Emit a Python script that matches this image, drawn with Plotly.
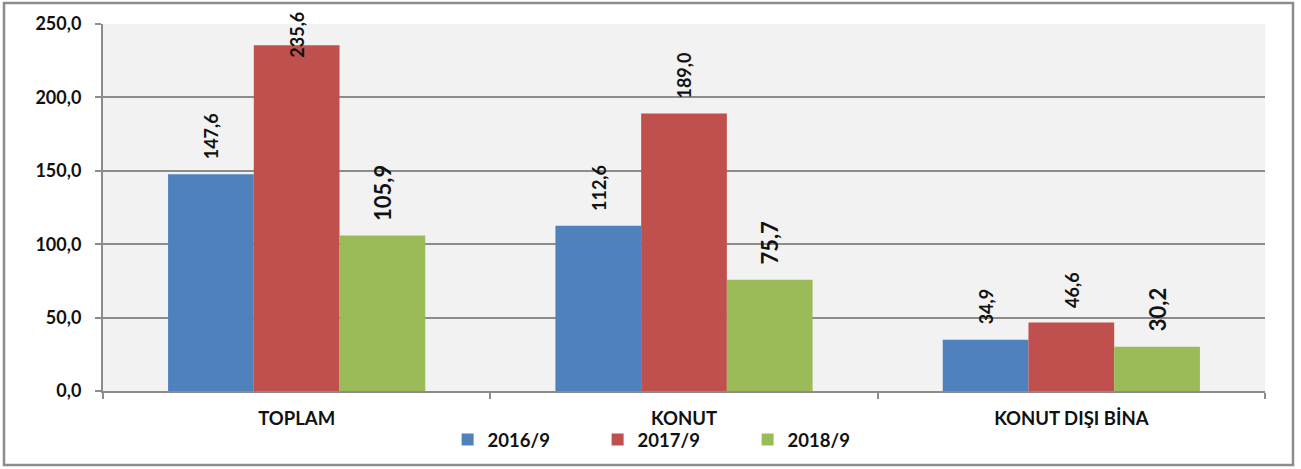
import plotly.graph_objects as go

categories = ["TOPLAM", "KONUT", "KONUT DIŞI BİNA"]
series_names = ["2016/9", "2017/9", "2018/9"]
v2016 = [147.6, 112.6, 34.9]
v2017 = [235.6, 189.0, 46.6]
v2018 = [105.9, 75.7, 30.2]
y_ticks = [0, 50, 100, 150, 200, 250]

series_values = [v2016, v2017, v2018]
colors = ["#4F81BD", "#C0504D", "#9BBB59"]
label_sizes = [18, 18, 22]

W, H = 1301, 469
ML, MR, MT, MB = 103, 36, 24, 78
plot_h = H - MT - MB
ymax = 250
bargap = 0.336
FONT = "Lato"

fig = go.Figure()
for name, vals, col in zip(series_names, series_values, colors):
    fig.add_trace(go.Bar(
        x=categories, y=vals, name=name,
        marker=dict(color=col, line=dict(width=0)),
    ))

def fmt(v):
    return f"{v:.1f}".replace(".", ",")

annotations = []
nser = len(series_values)
barw = (1 - bargap) / nser
gap_px = 14
for i, vals in enumerate(series_values):
    for j, v in enumerate(vals):
        txt = fmt(v)
        size = label_sizes[i]
        est_len = len(txt) * 0.55 * size
        bar_top_px = (1 - v / ymax) * plot_h
        xpos = j + (i - (nser - 1) / 2) * barw
        common = dict(
            x=xpos, xref="x", yref="y", text=txt, showarrow=False,
            textangle=-90, xanchor="center",
            font=dict(family=FONT, size=size, color="#111111", weight="bold"),
        )
        if bar_top_px - gap_px - est_len < -14:
            annotations.append(dict(y=ymax, yanchor="top", yshift=14, **common))
        else:
            annotations.append(dict(y=v, yanchor="bottom", yshift=gap_px - 1, **common))

fig.update_layout(
    width=W, height=H,
    margin=dict(l=ML, r=MR, t=MT, b=MB, pad=0, autoexpand=False),
    paper_bgcolor="white",
    plot_bgcolor="#F2F2F2",
    barmode="group", bargap=bargap, bargroupgap=0,
    separators=",.",
    font=dict(family=FONT, color="#111111"),
    showlegend=True,
    legend=dict(
        orientation="h", xref="container", yref="container",
        x=0.517, xanchor="center", y=1 - 440 / H, yanchor="middle",
        font=dict(family=FONT, size=18.5, color="#111111", weight="bold"),
        entrywidth=105, entrywidthmode="pixels", itemwidth=30,
        bgcolor="rgba(0,0,0,0)",
    ),
    annotations=annotations,
    shapes=[dict(
        type="rect", xref="paper", yref="paper",
        x0=(4 - ML) / (W - ML - MR), x1=(1293 - ML) / (W - ML - MR),
        y0=-(465 - (H - MB)) / plot_h, y1=1 + (MT - 3) / plot_h,
        line=dict(color="#8C8C8C", width=2.5), layer="below",
    )],
)

fig.update_xaxes(
    type="category", automargin=False,
    showline=True, linecolor="#8C8C8C", linewidth=2,
    ticks="outside", tickson="boundaries", ticklen=6, tickcolor="#8C8C8C", tickwidth=2,
    tickfont=dict(family=FONT, size=18.5, color="#111111", weight="bold"),
    ticklabelstandoff=10,
    showgrid=False,
)
fig.update_yaxes(
    range=[0, ymax], tickvals=y_ticks, tickformat=".1f", automargin=False,
    showline=True, linecolor="#8C8C8C", linewidth=2,
    ticks="outside", ticklen=6, tickcolor="#8C8C8C", tickwidth=2,
    tickfont=dict(family=FONT, size=18, color="#111111", weight="bold"),
    ticklabelstandoff=10,
    showgrid=True, gridcolor="#8C8C8C", gridwidth=2,
    zeroline=False,
)

fig.write_html("out.html", config={"displayModeBar": False},
               post_script="document.body.style.margin='0';")
